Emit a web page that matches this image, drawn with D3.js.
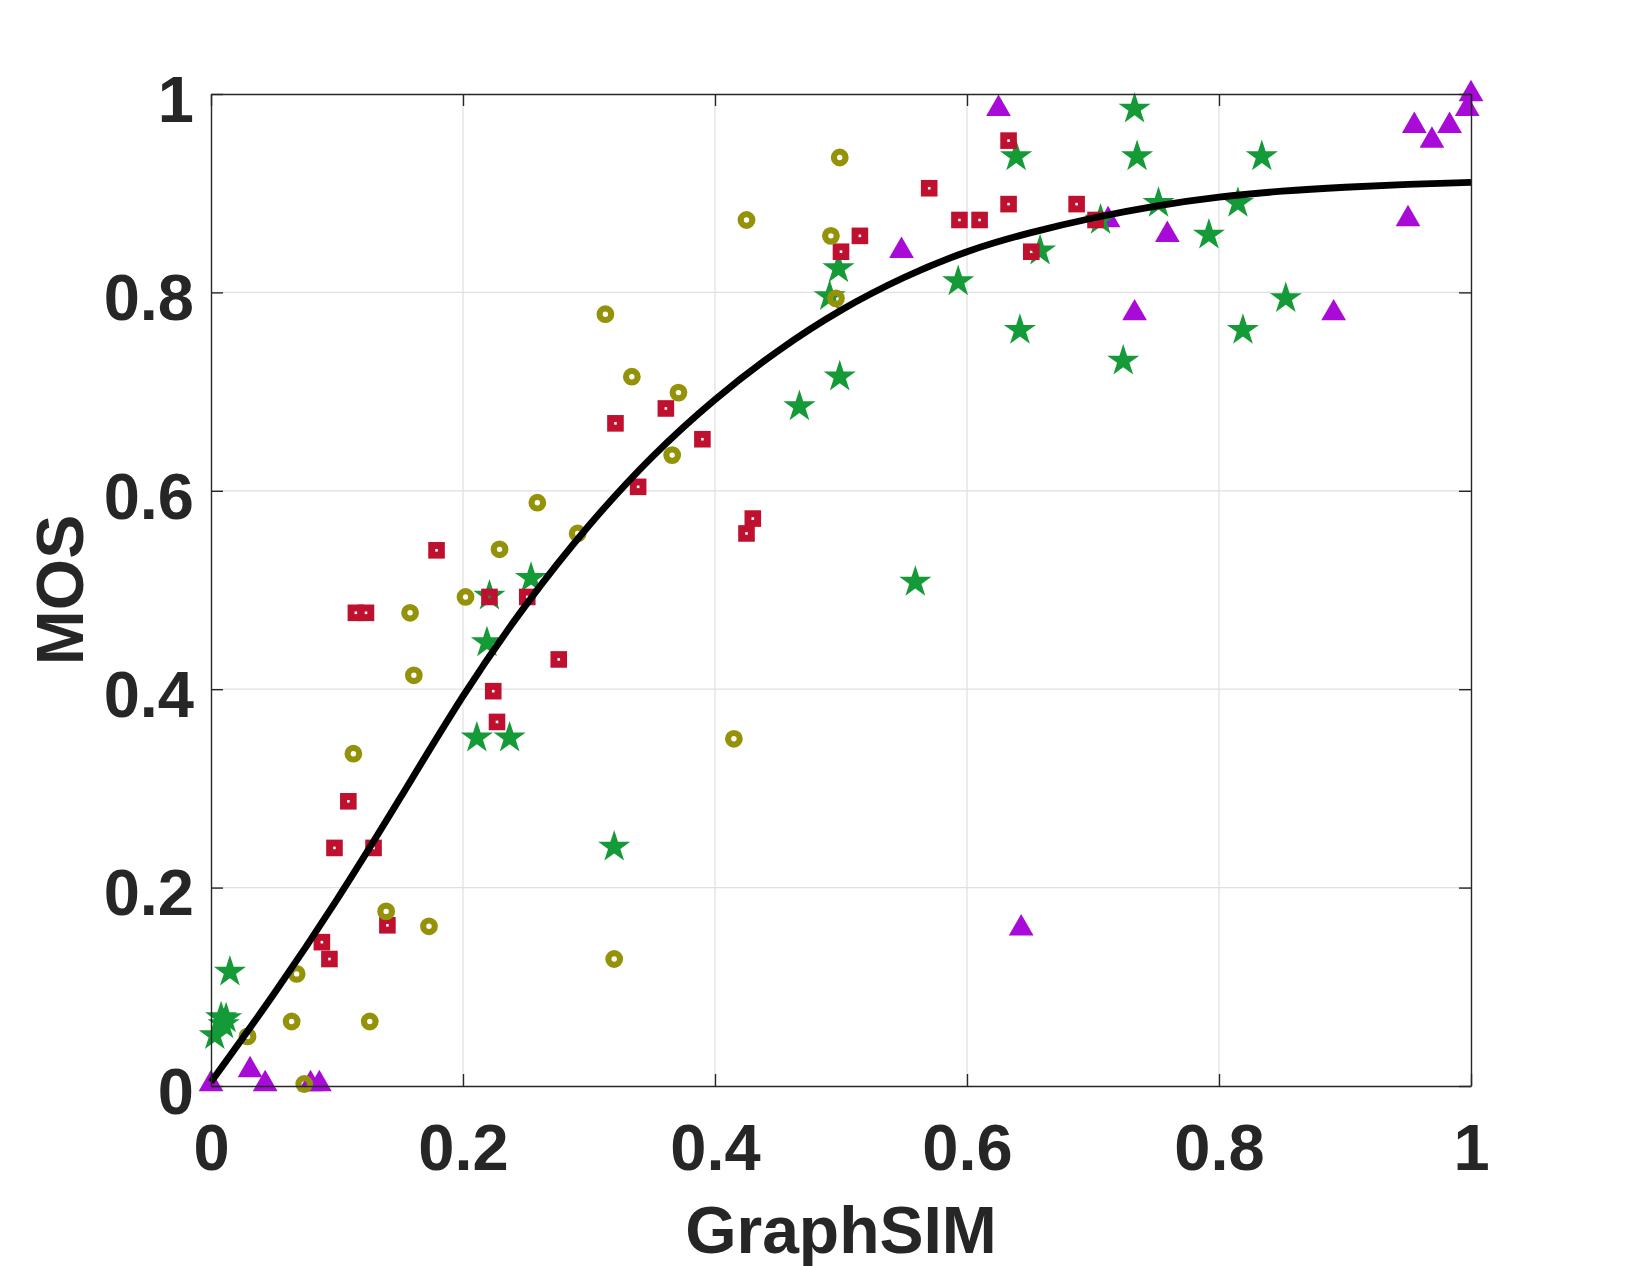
<!DOCTYPE html>
<html lang="en">
<head>
  <meta charset="UTF-8" />
  <title>GraphSIM vs MOS</title>
  <style>
    * { margin:0; padding:0; box-sizing:border-box }
    body { background:#fff; font-family:'Liberation Sans', Arial, sans-serif; }
    #chart svg { display:block; }
  </style>
</head>
<body>
  <div id="chart"></div>

  <script src="https://d3js.org/d3.v7.min.js"></script>
  <script>
    // ── data ──
    const xTicks = [0, 0.2, 0.4, 0.6, 0.8, 1];
    const yTicks = [0, 0.2, 0.4, 0.6, 0.8, 1];

    // olive rings
    const circleX = [0.499,0.425,0.492,0.496,0.313,0.334,0.371,0.366,0.259,0.291,0.229,0.202,
                     0.158,0.161,0.113,0.415,0.139,0.173,0.320,0.068,0.064,0.126,0.029,0.074];
    const circleY = [0.936,0.873,0.857,0.794,0.778,0.715,0.699,0.636,0.588,0.557,0.541,0.493,
                     0.477,0.414,0.335,0.350,0.176,0.161,0.128,0.113,0.065,0.065,0.050,0.002];

    // red squares
    const squareX = [0.633,0.570,0.633,0.687,0.594,0.610,0.702,0.515,0.500,0.651,0.361,0.321,
                     0.390,0.339,0.430,0.425,0.179,0.115,0.123,0.221,0.251,0.224,0.227,0.276,
                     0.109,0.098,0.129,0.088,0.094,0.140];
    const squareY = [0.953,0.905,0.889,0.889,0.873,0.873,0.873,0.857,0.841,0.841,0.683,0.668,
                     0.652,0.604,0.572,0.557,0.540,0.477,0.477,0.493,0.493,0.398,0.367,0.430,
                     0.287,0.240,0.240,0.145,0.128,0.162];

    // green stars
    const starX = [0.733,0.639,0.735,0.834,0.752,0.815,0.706,0.792,0.658,0.498,0.593,0.491,
                   0.853,0.642,0.819,0.724,0.499,0.467,0.559,0.254,0.221,0.219,0.211,0.237,
                   0.320,0.015,0.008,0.012,0.010,0.003];
    const starY = [0.985,0.937,0.937,0.937,0.890,0.890,0.873,0.858,0.842,0.824,0.811,0.796,
                   0.794,0.762,0.762,0.731,0.715,0.685,0.508,0.512,0.494,0.447,0.351,0.351,
                   0.241,0.115,0.069,0.068,0.062,0.051];

    // purple triangles
    const triX = [1.000,0.997,0.955,0.983,0.969,0.950,0.625,0.548,0.712,0.759,0.733,0.891,
                  0.643,0.031,0.043,0.000,0.079,0.086];
    const triY = [1.000,0.985,0.968,0.968,0.953,0.874,0.985,0.842,0.873,0.858,0.779,0.779,
                  0.159,0.016,0.002,0.002,0.002,0.002];

    // fitted curve, sampled from the figure
    const fitX = [0,0.05,0.1,0.15,0.2,0.25,0.3,0.35,0.4,0.45,0.5,0.55,0.6,0.65,0.7,0.75,0.8,0.85,0.9,0.95,1.0];
    const fitY = [0.004,0.093,0.188,0.290,0.393,0.485,0.565,0.634,0.692,0.741,0.782,0.815,
                  0.841,0.860,0.875,0.887,0.896,0.902,0.906,0.909,0.911];

    // ── layout ──
    const W = 1625, H = 1266;
    const m = { left:211, right:W-1471, top:94, bottom:H-1086 };
    const iw = W - m.left - m.right, ih = H - m.top - m.bottom;
    const ink = "#262626";
    const tickFont = 65, labelFont = 66;

    const x = d3.scaleLinear().domain([0,1]).range([0,iw]);
    const y = d3.scaleLinear().domain([0,1]).range([ih,0]);

    const svg = d3.select("#chart").append("svg")
      .attr("width",W).attr("height",H);
    const g = svg.append("g").attr("transform",`translate(${m.left},${m.top})`);

    // grid
    g.append("g").selectAll("line").data(xTicks.slice(1,-1)).join("line")
      .attr("x1",d=>x(d)).attr("x2",d=>x(d)).attr("y1",0).attr("y2",ih)
      .attr("stroke","#dfdfdf").attr("stroke-width",1.2);
    g.append("g").selectAll("line").data(yTicks.slice(1,-1)).join("line")
      .attr("y1",d=>y(d)).attr("y2",d=>y(d)).attr("x1",0).attr("x2",iw)
      .attr("stroke","#dfdfdf").attr("stroke-width",1.2);

    // markers (purple, green, red, olive in that order)
    const zip = (a,b) => a.map((v,i)=>[v,b[i]]);

    g.append("g").selectAll("path").data(zip(triX,triY)).join("path")
      .attr("d", d3.symbol(d3.symbolTriangle, 265)())
      .attr("transform",d=>`translate(${x(d[0])},${y(d[1])})`)
      .attr("fill","#a80bd8");

    g.append("g").selectAll("path").data(zip(starX,starY)).join("path")
      .attr("d", d3.symbol(d3.symbolStar, 320)())
      .attr("transform",d=>`translate(${x(d[0])},${y(d[1])})`)
      .attr("fill","#159a38");

    g.append("g").selectAll("rect").data(zip(squareX,squareY)).join("rect")
      .attr("x",d=>x(d[0])-4.8).attr("y",d=>y(d[1])-4.8)
      .attr("width",9.6).attr("height",9.6)
      .attr("fill","none").attr("stroke","#c01030").attr("stroke-width",7);

    g.append("g").selectAll("circle").data(zip(circleX,circleY)).join("circle")
      .attr("cx",d=>x(d[0])).attr("cy",d=>y(d[1])).attr("r",5.8)
      .attr("fill","none").attr("stroke","#939209").attr("stroke-width",6.2);

    // fit curve
    g.append("path").datum(zip(fitX,fitY))
      .attr("d", d3.line().x(d=>x(d[0])).y(d=>y(d[1])).curve(d3.curveNatural))
      .attr("fill","none").attr("stroke","#000").attr("stroke-width",6.8);

    // axes: ticks point inward, box on all four sides
    const styleAxis = sel => {
      sel.select(".domain").attr("stroke",ink).attr("stroke-width",1.4);
      sel.selectAll(".tick line").attr("stroke",ink).attr("stroke-width",1.4);
      sel.selectAll("text").attr("fill",ink)
        .style("font-family","'Liberation Sans', Arial, sans-serif")
        .style("font-weight","bold").style("font-size",tickFont+"px");
    };

    g.append("g").attr("transform",`translate(0,${ih})`)
      .call(d3.axisBottom(x).tickValues(xTicks).tickFormat(d=>String(d))
        .tickSizeInner(-12).tickSizeOuter(0).tickPadding(38))
      .call(styleAxis);
    g.append("g")
      .call(d3.axisLeft(y).tickValues(yTicks).tickFormat(d=>String(d))
        .tickSizeInner(-12).tickSizeOuter(0).tickPadding(17))
      .call(styleAxis)
      .selectAll("text").attr("dy","0.42em");
    g.append("g")
      .call(d3.axisTop(x).tickValues(xTicks).tickFormat("")
        .tickSizeInner(-12).tickSizeOuter(0))
      .call(styleAxis);
    g.append("g").attr("transform",`translate(${iw},0)`)
      .call(d3.axisRight(y).tickValues(yTicks).tickFormat("")
        .tickSizeInner(-12).tickSizeOuter(0))
      .call(styleAxis);

    // axis titles
    svg.append("text")
      .attr("x", m.left + iw/2).attr("y", 1253)
      .attr("text-anchor","middle")
      .attr("fill",ink).style("font-weight","bold").style("font-size",labelFont+"px")
      .text("GraphSIM");
    svg.append("text")
      .attr("transform",`translate(83,${m.top + ih/2}) rotate(-90)`)
      .attr("text-anchor","middle")
      .attr("fill",ink).style("font-weight","bold").style("font-size",labelFont+"px")
      .text("MOS");
  </script>
</body>
</html>
